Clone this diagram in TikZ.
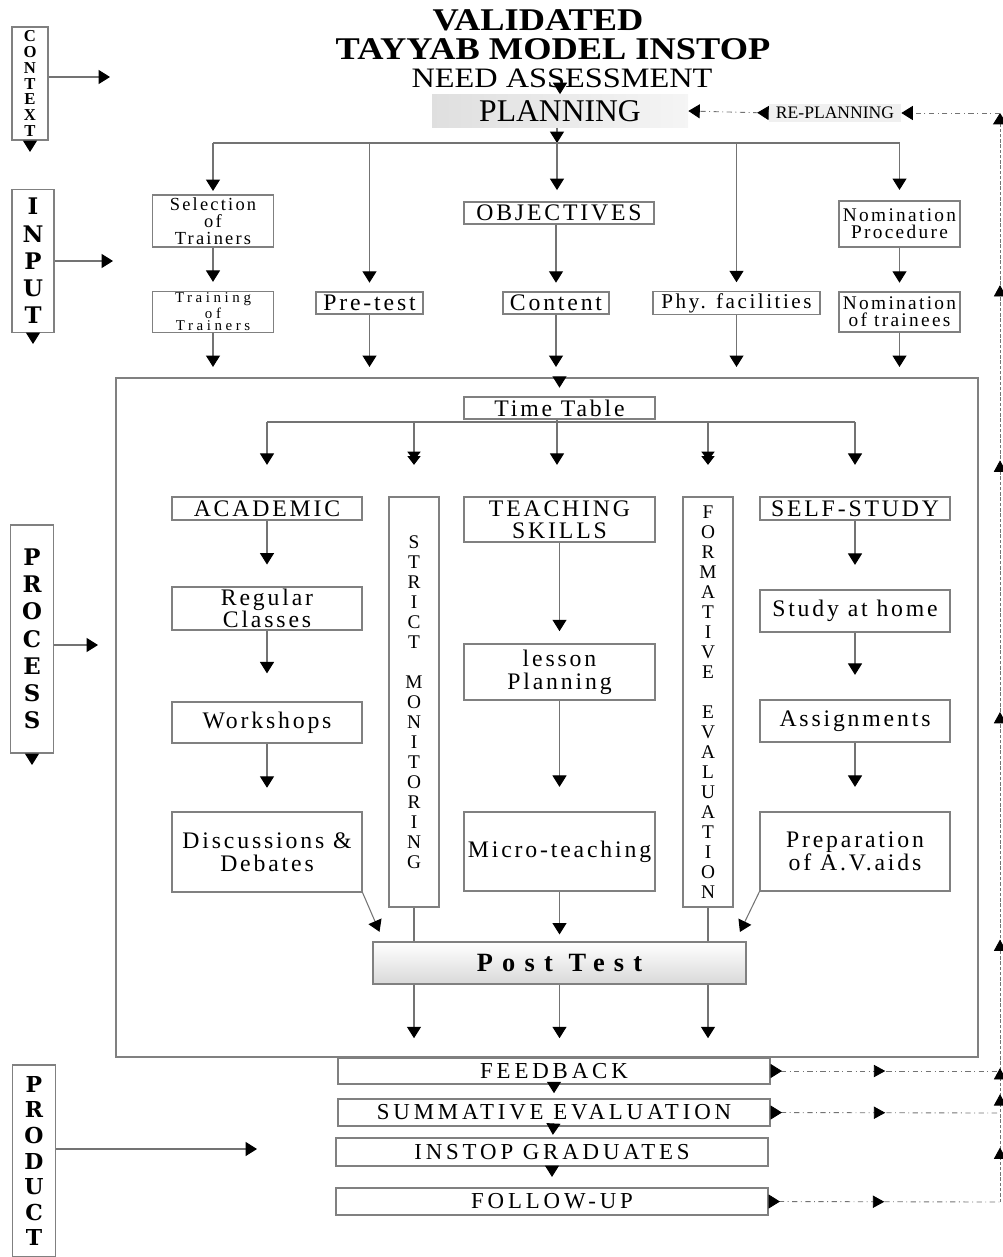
\documentclass[tikz,border=0pt]{standalone}
\usepackage{fontspec}
\setmainfont{Liberation Serif}
\newfontfamily\titleserif{Liberation Serif}[FakeStretch=1.15]
\newfontfamily\wideserif{Liberation Serif}[LetterSpace=12]
\newfontfamily\smallserif{Liberation Serif}[LetterSpace=24]
\newfontfamily\prodserif{Liberation Serif}[LetterSpace=17]
\newfontfamily\postserif{Liberation Serif}[LetterSpace=35]
\newfontfamily\lblserif{DejaVu Serif}
\usetikzlibrary{arrows.meta,calc,decorations.markings}
\newlength\unitpx
\setlength\unitpx{0.02cm}

\begin{document}
\begin{tikzpicture}[x=0.02cm, y=-0.02cm,
  ln/.style={draw=black!55, line width=0.6pt},
  arrhead/.style={-{Triangle[width=8pt,length=6.5pt,color=black]}},
  arr/.style={ln, arrhead},
  darr/.style={ln, -{Triangle[width=7.5pt,length=5pt,sep=-2.5pt,color=black]Triangle[width=7.5pt,length=5pt,color=black]}},
  sz/.style 2 args={minimum width=#1\unitpx, minimum height=#2\unitpx},
  box/.style={draw=black!50, line width=0.6pt, inner sep=1pt, align=center,
    font=\wideserif\fontsize{13.5}{12.5}\selectfont},
  side/.style={box, font=\lblserif\bfseries\fontsize{13}{15.5}\selectfont},
  prod/.style={box, font=\prodserif\fontsize{13}{13}\selectfont},
  vert/.style={box, font=\fontsize{11}{11.4}\selectfont},
  dd/.style={draw=black!55, line width=0.5pt, dash dot},
  vd/.style={draw=black!55, line width=0.5pt, dash pattern=on 2pt off 1pt},
  midtip/.style={postaction={decorate, decoration={markings,
    mark=at position #1 with {\arrow{Triangle[width=7pt,length=6.5pt,color=black]}}}}},
]
\useasboundingbox (0,0) rectangle (1003,1257);

% heading
\node[inner sep=0pt, font=\titleserif\bfseries\fontsize{18}{18}\selectfont] (ttla) at (538,20) {VALIDATED};
\node[inner sep=0pt, font=\titleserif\bfseries\fontsize{18}{18}\selectfont] (ttlb) at (553,49) {TAYYAB MODEL INSTOP};
\node[inner sep=0pt, font=\titleserif\fontsize{16}{16}\selectfont] (need) at (562,78) {NEED ASSESSMENT};
\node[sz={256}{28}, left color=gray!25, right color=gray!8, font=\fontsize{18}{18}\selectfont] (plan) at (560,111) {PLANNING};
\node[sz={132}{17}, fill=gray!12, inner sep=0pt, font=\fontsize{10}{10}\selectfont] (replan) at (835,113) {RE-PLANNING};

% side labels
\node[side, sz={36}{113}, font=\bfseries\fontsize{9.5}{9}\selectfont] (ctx) at (30,83.5) {C\\O\\N\\T\\E\\X\\T};
\node[side, sz={42}{143}] (inp) at (33,261) {I\\N\\P\\U\\T};
\node[side, sz={43}{228}] (prc) at (32,639) {P\\R\\O\\C\\E\\S\\S};
\node[side, sz={43}{192}, font=\lblserif\bfseries\fontsize{12.5}{14.6}\selectfont] (prd) at (34,1161) {P\\R\\O\\D\\U\\C\\T};
\coordinate (ctxA) at (110,77);
\coordinate (inpA) at (113,261);
\coordinate (prcA) at (98,645);
\coordinate (prdA) at (257,1149);
\coordinate (ctxD) at (30,152);
\coordinate (inpD) at (33,344);
\coordinate (prcD) at (32,765);
\foreach \n/\a in {ctx/ctxA, inp/inpA, prc/prcA, prd/prdA}
  \draw[arr] (\n.east |- \a) -- (\a);
\foreach \n/\d in {ctx/ctxD, inp/inpD, prc/prcD}
  \draw[arr] (\n.south) -- (\d);

% input
\node[box, sz={121}{52}, font=\wideserif\fontsize{10.5}{9.5}\selectfont] (sel) at (213,221) {Selection\\of\\Trainers};
\node[box, sz={121}{40}, font=\smallserif\fontsize{8.5}{7.2}\selectfont] (trn) at (213,312) {Training\\of\\Trainers};
\node[box, sz={107}{22}] (pre) at (369.5,303) {Pre-test};
\node[box, sz={190}{22}] (obj) at (559,213) {OBJECTIVES};
\node[box, sz={106}{22}] (cont) at (556,303) {Content};
\node[box, sz={167}{22}, font=\wideserif\fontsize{12}{12}\selectfont] (phy) at (736.5,303) {Phy. facilities};
\node[box, sz={121}{46}, font=\wideserif\fontsize{11}{9.5}\selectfont] (nomp) at (899.5,224) {Nomination\\Procedure};
\node[box, sz={121}{40}, font=\wideserif\fontsize{11}{9.5}\selectfont] (nomt) at (899.5,312) {Nomination\\of trainees};

\coordinate (jt) at (557,143);
\draw[arr] (need.south -| plan.north) -- (plan.north);
\draw[arr] (plan.south -| jt) -- (jt);
\draw[ln] (sel.north |- jt) -- (nomp.north |- jt);
\draw[arr, shorten >=2pt] (sel.north |- jt) -- (sel.north);
\draw[arr, shorten >=5pt] (pre.north |- jt) -- (pre.north);
\draw[arr, shorten >=6.5pt] (jt) -- (jt |- obj.north);
\draw[arr, shorten >=5pt] (phy.north |- jt) -- (phy.north);
\draw[arr, shorten >=6pt] (nomp.north |- jt) -- (nomp.north);
\draw[arr, shorten >=5pt] (sel) -- (trn);
\draw[arr, shorten >=5pt] (obj.south -| cont) -- (cont.north);
\draw[arr, shorten >=5pt] (nomp) -- (nomt);

% process
\node[draw=black!50, line width=0.6pt, sz={862}{679}] (proc) at (547,717.5) {};
\foreach \n in {trn, pre, cont, phy, nomt}
  \draw[arr, shorten >=6pt] (\n.south) -- (\n.south |- proc.north);

\node[box, sz={191}{22}] (tt) at (559.5,408) {Time Table};
\draw[arr, shorten >=5pt] (proc.north -| tt.north) -- (tt.north);

\node[box, sz={190}{23}] (ac) at (267,508.5) {ACADEMIC};
\node[vert, sz={50}{410}] (strict) at (414,702) {S\\T\\R\\I\\C\\T\\[11.4pt]M\\O\\N\\I\\T\\O\\R\\I\\N\\G};
\node[box, sz={191}{45}] (teach) at (559.5,519.5) {TEACHING\\SKILLS};
\node[vert, sz={50}{410}] (form) at (708,702) {F\\O\\R\\M\\A\\T\\I\\V\\E\\[11.4pt]E\\V\\A\\L\\U\\A\\T\\I\\O\\N};
\node[box, sz={190}{23}] (self) at (855,508.5) {SELF-STUDY};

\node[box, sz={190}{43}] (reg) at (267,608.5) {Regular\\Classes};
\node[box, sz={190}{41}] (wk) at (267,722.5) {Workshops};
\node[box, sz={190}{80}, font=\wideserif\fontsize{13.5}{13}\selectfont] (disc) at (267,852) {Discussions \&\\Debates};
\node[box, sz={191}{56}, font=\wideserif\fontsize{13.5}{13}\selectfont] (lesson) at (559.5,672) {lesson\\Planning};
\node[box, sz={191}{79}] (micro) at (559.5,851.5) {Micro-teaching};
\node[box, sz={190}{42}] (study) at (855,611) {Study at home};
\node[box, sz={190}{42}] (asg) at (855,721) {Assignments};
\node[box, sz={190}{79}, font=\wideserif\fontsize{13.5}{13}\selectfont] (prep) at (855,851.5) {Preparation\\of A.V.aids};

\coordinate (tb) at (557,422);
\draw[ln] (tt.south -| tb) -- (tb);
\draw[ln] (ac.north |- tb) -- (self.north |- tb);
\draw[arr, shorten >=18pt] (ac.north |- tb) -- (ac.north);
\draw[darr, shorten >=18pt] (strict.north |- tb) -- (strict.north);
\draw[arr, shorten >=18pt] (tb) -- (tb |- teach.north);
\draw[darr, shorten >=18pt] (form.north |- tb) -- (form.north);
\draw[arr, shorten >=18pt] (self.north |- tb) -- (self.north);

\draw[arr, shorten >=12.5pt] (ac) -- (reg);
\draw[arr, shorten >=16pt] (reg) -- (wk);
\draw[arr, shorten >=13.5pt] (wk) -- (disc);
\draw[arr, shorten >=7pt] (teach) -- (lesson);
\draw[arr, shorten >=14pt] (lesson) -- (micro);
\draw[arr, shorten >=14pt] (self) -- (study);
\draw[arr, shorten >=14pt] (study) -- (asg);
\draw[arr, shorten >=14pt] (asg) -- (prep);

\node[box, sz={373}{42}, top color=white, bottom color=gray!30,
  font=\postserif\bfseries\fontsize{15}{15}\selectfont] (pt) at (559.5,963) {Post Test};
\draw[arr, shorten >=6pt] (disc.south east) -- ($(pt.north west)!0.03!(pt.north east)$);
\draw[arr, shorten >=6pt] (prep.south west) -- ($(pt.north east)!0.03!(pt.north west)$);
\draw[arr, shorten >=4pt] (micro) -- (pt);
\draw[ln] (strict.south) -- (strict.south |- pt.north);
\draw[ln] (form.south) -- (form.south |- pt.north);
\foreach \c in {strict, micro, form}
  \draw[arr, shorten >=11pt] (\c.south |- pt.south) -- (\c.south |- proc.south);

% product
\node[prod, sz={432}{26}] (fb) at (554,1071) {FEEDBACK};
\node[prod, sz={432}{27}] (sum) at (554,1112.5) {SUMMATIVE EVALUATION};
\node[prod, sz={432}{28}] (grad) at (552,1152) {INSTOP GRADUATES};
\node[prod, sz={432}{27}] (fol) at (552,1201.5) {FOLLOW-UP};
\draw[arr, shorten >=3pt] (fb) -- (sum);
\draw[arr, shorten >=1.5pt] (sum) -- (grad);
\draw[arr, shorten >=6pt] (grad) -- (fol);

% feedback loop
\coordinate (topR) at (1000,113);
\coordinate (fbR) at (1000,1071);
\coordinate (sumR) at (1000,1113);
\coordinate (folR) at (1000,1202);
\foreach \b/\r in {fb/fbR, sum/sumR, fol/folR}
  \draw[dd, {Triangle[reversed,width=8pt,length=6.5pt,color=black]}-, midtip=0.5] (\b.east) -- (\r);
\draw[vd, arrhead, midtip=0.05, midtip=0.099, midtip=0.123, midtip=0.241,
  midtip=0.45, midtip=0.681, midtip=0.842] (folR) -- (topR);
\draw[dd, arrhead] (topR) -- (replan.east);
\draw[dd, {Triangle[reversed,width=8pt,length=6.5pt,color=black]}-{Triangle[width=8pt,length=6.5pt,color=black]}] (replan.west) -- (plan.east);
\end{tikzpicture}
\end{document}
